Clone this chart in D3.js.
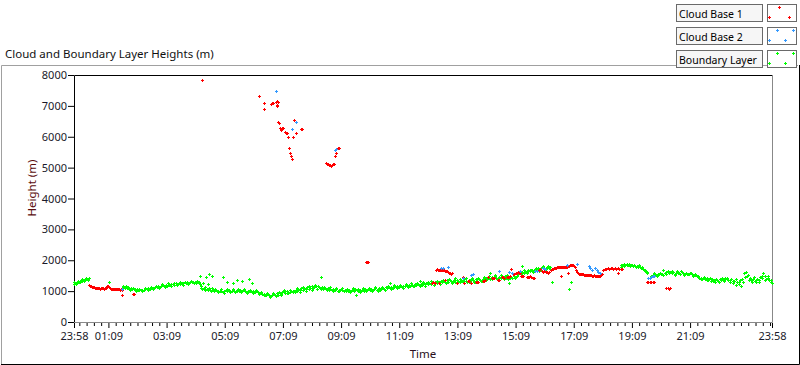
<!DOCTYPE html>
<html>
<head>
<meta charset="utf-8">
<script src="https://cdn.jsdelivr.net/npm/d3@7"></script>
<style>
body { margin: 0; background: #fff; }
text { font-family: "Noto Sans", "Open Sans", sans-serif; }
</style>
</head>
<body>
<div id="chart"></div>
<script>
// x values are minutes after 23:58, y values are heights in metres
var xTickMinutes = [0, 71, 191, 311, 431, 551, 671, 791, 911, 1031, 1151, 1271, 1440];
var xTickLabels = ["23:58", "01:09", "03:09", "05:09", "07:09", "09:09", "11:09", "13:09", "15:09", "17:09", "19:09", "21:09", "23:58"];
var yTicks = [0, 1000, 2000, 3000, 4000, 5000, 6000, 7000, 8000];
var seriesNames = ["Cloud Base 1", "Cloud Base 2", "Boundary Layer"];
var seriesColors = ["#ff0000", "#3399ff", "#00ff00"];

var cloudBase1 = [
  [265,7830],[382,7310],[393,7080],[391,6890],[407,7060],[409,7100],[411,7080],[416,7130],[418,7160],[420,7140],
  [419,7020],[418,7000],[421,6480],[423,6450],[424,6280],[430,6270],[432,6290],[427,6220],[436,6160],[439,6110],
  [437,6130],[454,6530],[457,6110],[442,5980],[452,5980],[469,6240],[471,6250],[444,5630],[446,5460],[448,5370],
  [450,5270],[520,5140],[522,5120],[524,5110],[526,5090],[528,5070],[530,5060],[532,5080],[534,5110],[536,5130],
  [538,5380],[540,5460],[544,5630],[546,5650],
  [603,1930],[605,1940],[607,1930],
  [30,1200],[32,1180],[34,1170],[36,1150],[38,1140],[40,1130],[42,1120],[44,1110],[46,1100],[48,1100],
  [50,1090],[52,1090],[54,1080],[56,1090],[58,1100],[60,1090],[62,1080],[64,1090],[66,1110],[68,1160],
  [70,1150],[72,1120],[74,1100],[76,1080],[78,1070],[80,1060],[82,1060],[84,1070],[86,1080],[88,1070],
  [90,1060],[92,1060],[94,1050],[96,1060],[98,1050],[99,875],[121,900],[123,910],
  [746,1700],[748,1710],[750,1700],[752,1690],[754,1700],[756,1690],[758,1680],[760,1690],[762,1670],[764,1680],
  [766,1660],[768,1660],[770,1640],[772,1620],[774,1600],[776,1590],[778,1570],[780,1580],
  [738,1270],[741,1280],[744,1270],[752,1250],[765,1360],[790,1250],[802,1470],[805,1250],[813,1340],[815,1330],
  [820,1270],[829,1300],[831,1310],[833,1300],[843,1330],[845,1320],[848,1360],[855,1450],[862,1410],[864,1420],
  [866,1410],[875,1360],[877,1370],[882,1470],[886,1450],[888,1440],[894,1470],[896,1460],[898,1470],[900,1480],
  [902,1710],[906,1550],[908,1540],[912,1590],[914,1600],[916,1610],[918,1590],[920,1580],[922,1490],[924,1480],
  [926,1490],[934,1470],[936,1460],[938,1470],[940,1480],[942,1460],[946,1440],[948,1430],[950,1440],[960,1700],
  [962,1720],[966,1640],[968,1620],[970,1640],[974,1630],[976,1620],[978,1600],[980,1620],
  [984,1700],[986,1710],[988,1730],[990,1740],[992,1740],[994,1760],[996,1770],[998,1780],[1000,1790],[1002,1790],
  [1004,1780],[1006,1790],[1008,1790],[1010,1790],[1012,1780],[1014,1770],[1016,1770],[1018,1780],[1020,1800],[1022,1820],
  [1024,1840],[1026,1850],[1028,1850],[1030,1840],[1032,1820],[1034,1780],[1036,1700],
  [1092,1700],[1095,1720],[1098,1730],[1101,1740],[1104,1730],[1107,1740],[1110,1740],[1113,1730],[1116,1740],[1119,1730],
  [1122,1740],[1125,1730],[1128,1720],[1131,1730],
  [1038,1620],[1040,1580],[1042,1570],[1044,1560],[1046,1550],[1048,1540],[1050,1540],[1052,1530],[1054,1530],[1056,1520],
  [1058,1520],[1060,1520],[1062,1510],[1064,1520],[1066,1510],[1068,1500],[1070,1500],[1072,1510],[1074,1500],[1076,1490],
  [1078,1500],[1080,1490],[1082,1500],[1084,1490],[1086,1500],[1088,1520],[1090,1560],
  [1004,1490],[1020,1580],[1123,1580],
  [1182,1290],[1185,1280],[1188,1290],[1191,1280],[1194,1290],[1197,1280],
  [1222,1110],[1225,1100],[1228,1080],[1230,1090]
];

var cloudBase2 = [
  [417,7470],[416,7490],[457,6470],[450,6240],[539,5560],[541,5590],[100,1070],
  [758,1740],[762,1760],[771,1790],[803,1430],[820,1520],[823,1540],[877,1640],[897,1610],[903,1580],
  [920,1660],[952,1650],[955,1660],[972,1710],[968,1740],[1018,1850],[1038,1870],[1063,1810],[1064,1740],
  [1068,1680],[1075,1740],[1078,1700],[1082,1630],[1085,1580],
  [1185,1420],[1188,1440],[1191,1460],[1194,1480],[1196,1490]
];

var boundaryLayer = [
  [0,1240],[2,1270],[4,1260],[6,1290],[8,1300],[10,1310],[12,1330],[14,1320],[16,1340],[18,1360],
  [20,1350],[22,1370],[24,1390],[26,1380],[28,1400],[30,1420],[73,1290],
  [1,1280],[5,1230],[9,1340],[13,1290],[17,1380],[21,1320],[25,1420],[29,1370],
  [101,1170],[104,1140],[106,1110],[109,1100],[112,1120],[114,1080],[117,1090],[120,1070],[123,1060],[126,1080],
  [129,1060],[132,1040],[135,1030],[138,1040],[141,1030],[144,1050],[147,1060],[150,1070],[153,1090],[156,1080],
  [159,1100],[162,1090],[165,1110],[168,1130],[171,1120],[174,1150],[177,1140],
  [102,1120],[108,1150],[115,1040],[121,1110],[127,1020],[134,1080],[140,1000],[146,1090],[152,1030],[158,1130],
  [164,1060],[170,1160],[176,1100],[182,1230],[188,1140],[194,1250],[200,1160],[206,1270],[212,1190],[218,1300],
  [224,1210],[230,1310],[236,1230],[242,1330],[248,1250],[254,1330],[259,1240],
  [180,1160],[183,1190],[186,1170],[189,1200],[192,1180],[195,1210],[198,1190],[201,1220],[204,1240],[207,1210],
  [210,1250],[213,1230],[216,1260],[219,1240],[222,1270],[225,1250],[228,1280],[231,1260],[234,1290],[237,1270],
  [240,1300],[243,1280],[246,1290],[249,1310],[252,1270],[255,1290],[258,1300],
  [260,1500],[272,1470],[279,1550],[284,1490],[266,1250],[276,1230],
  [262,1100],[265,1070],[268,1090],[271,1040],[274,1060],[277,1030],[280,1050],[283,1020],[286,1040],[289,1010],
  [308,1450],[315,1310],[327,1250],[336,1360],[346,1340],[360,1380],[367,1250],
  [292,1030],[295,1000],[298,1020],[301,990],[304,1010],[307,980],[310,1000],[313,1030],[316,1010],[319,1040],
  [322,1020],[325,1000],[328,1030],[331,1010],[334,990],[337,1020],[340,1000],[343,1040],[346,1010],[349,1030],
  [352,1000],[355,980],[358,1010],[361,990],[364,1020],[367,980],[370,1000],[373,960],[376,990],[379,970],[382,950],
  [263,1150],[270,1120],[278,1090],[285,1110],[291,1080],[297,960],[303,1060],[309,950],[315,1070],[321,970],
  [327,1070],[333,960],[339,1060],[345,970],[351,1060],[357,950],[363,1050],[369,940],[375,1030],[381,920],
  [385,940],[388,900],[391,920],[394,880],[397,860],[400,900],[403,870],[406,840],[409,880],[412,910],
  [415,870],[418,930],[421,890],[424,950],[427,910],
  [386,980],[392,860],[398,950],[404,820],[410,930],[416,830],[422,960],[428,870],[434,1030],[440,930],[446,1040],[452,1010],
  [430,960],[433,1000],[436,950],[439,990],[442,940],[445,980],[448,1010],[451,970],
  [454,1000],[457,1040],[460,1010],[463,1070],[466,1030],[469,1090],[472,1050],[475,1110],[478,1080],[481,1130],
  [484,1060],[487,1100],[490,1150],[493,1090],[496,1120],[499,1170],[502,1080],[505,1130],[508,1100],[509,1450],
  [455,960],[461,1100],[467,980],[473,1130],[479,1020],[485,1160],[491,1040],[497,1190],[503,1150],[510,1060],
  [516,1140],[522,1030],[528,1120],[534,1010],[540,1100],[546,990],[552,1110],[558,1000],[564,1080],[570,980],
  [576,1090],[585,1080],[591,980],[597,1090],[603,990],[609,1110],[615,1000],[621,1120],[627,1020],[630,1110],
  [511,1120],[514,1080],[517,1100],[520,1060],[523,1090],[526,1050],[529,1080],[532,1040],[535,1070],[538,1030],
  [541,1060],[544,1020],[547,1050],[550,1080],[553,1040],[556,1010],[559,1050],[562,1020],[565,1000],[568,1040],
  [571,1010],[574,1050],[577,1020],[580,1060],[582,880],[583,1030],[586,1000],[589,1040],[592,1010],[595,1050],
  [598,1020],[601,1060],[604,1030],[607,1080],[610,1040],[613,1070],[616,1030],[619,1060],[622,1090],[625,1050],
  [628,1080],[631,1040],
  [634,1070],[637,1100],[640,1080],[643,1120],[646,1090],[649,1130],[652,1270],[652,1100],[655,1140],[658,1110],
  [661,1150],[664,1120],[667,1160],[670,1130],[673,1170],[676,1140],[679,1180],[682,1150],[685,1190],[688,1160],
  [691,1200],[694,1170],[697,1210],[700,1180],[703,1220],[706,1190],[709,1230],[712,1200],[714,1340],[715,1240],
  [718,1210],[721,1250],[724,1220],[727,1260],[730,1230],[733,1270],
  [636,1140],[642,1050],[648,1170],[654,1060],[660,1190],[666,1090],[672,1210],[678,1110],[684,1230],[690,1130],
  [696,1250],[702,1160],[708,1270],[713,1170],[719,1290],[725,1180],[731,1300],
  [736,1240],[739,1290],[742,1250],[745,1300],[748,1260],[751,1310],[754,1280],[757,1330],[760,1290],[763,1340],
  [766,1300],[769,1350],[772,1310],[775,1360],[778,1320],[781,1280],[784,1350],[787,1310],[790,1370],[793,1330],
  [796,1290],[799,1360],[802,1320],[805,1380],[808,1340],[811,1300],[814,1370],[817,1330],[818,1520],[820,1390],
  [823,1350],[826,1310],[829,1380],[832,1340],[835,1400],[838,1360],[841,1320],[844,1390],
  [737,1320],[743,1210],[749,1340],[755,1230],[761,1360],[767,1250],[773,1390],[779,1270],[785,1410],[791,1290],
  [797,1400],[803,1280],[809,1420],[815,1300],[821,1430],[827,1290],[833,1420],[839,1320],[845,1450],[851,1360],
  [857,1490],[863,1390],[869,1510],[875,1400],[881,1530],[887,1380],[893,1520],[899,1420],[905,1540],[911,1450],
  [847,1350],[850,1420],[853,1380],[856,1440],[858,1580],[859,1400],[862,1460],[865,1420],[868,1480],[871,1430],
  [874,1380],[877,1450],[880,1410],[883,1470],[886,1430],[889,1490],[892,1440],[895,1400],[898,1270],[901,1460],
  [904,1420],[907,1480],[910,1440],[913,1500],
  [916,1560],[919,1610],[922,1580],[924,1820],[925,1630],[928,1600],[931,1650],[934,1620],[937,1670],[940,1640],
  [943,1690],[944,1690],[946,1660],[949,1700],[952,1670],[955,1720],[958,1740],[961,1700],[964,1750],[967,1820],
  [970,1760],[973,1730],[976,1780],[979,1750],[982,1790],
  [917,1620],[923,1540],[929,1680],[935,1580],[941,1700],[947,1620],[953,1740],[959,1660],[965,1780],[971,1700],
  [977,1810],[981,1720],
  [986,1310],[1021,1060],[1025,1310],
  [1128,1790],[1131,1830],[1134,1870],[1137,1860],[1140,1880],[1143,1850],[1146,1870],[1149,1840],[1152,1860],[1155,1830],
  [1158,1810],[1161,1820],[1164,1790],[1167,1770],[1170,1740],[1173,1710],[1176,1680],[1179,1650],[1182,1620],
  [1129,1840],[1135,1800],[1141,1830],[1147,1800],[1153,1810],[1159,1770],[1165,1830],[1171,1780],[1177,1700],[1183,1580],
  [1196,1580],[1203,1490],[1209,1590],[1215,1520],[1221,1570],
  [1190,1500],[1194,1530],[1198,1550],[1201,1520],[1204,1560],[1207,1540],[1210,1570],[1213,1550],[1216,1680],[1219,1600],
  [1222,1620],[1225,1650],
  [1230,1630],[1233,1580],[1236,1610],[1239,1560],[1242,1600],[1245,1640],[1248,1590],[1251,1560],[1254,1610],[1257,1580],
  [1260,1550],[1263,1600],[1266,1570],[1269,1540],[1272,1580],[1275,1550],[1278,1520],[1281,1560],[1284,1510],
  [1287,1460],[1290,1420],[1293,1440],[1296,1400],[1299,1430],[1302,1380],[1305,1410],[1308,1360],[1311,1390],[1314,1340],
  [1317,1380],[1320,1350],[1323,1310],[1326,1370],[1329,1330],[1332,1390],[1335,1350],[1338,1400],[1341,1370],[1344,1420],
  [1347,1380],
  [1350,1350],[1353,1300],[1356,1400],[1359,1260],[1362,1330],[1365,1200],[1368,1280],[1371,1230],[1374,1350],[1377,1170],
  [1380,1300],
  [1383,1580],[1386,1630],[1389,1480],[1392,1360],[1395,1420],[1398,1310],[1401,1380],[1404,1330],[1407,1290],[1410,1400],
  [1413,1350],[1416,1470],[1419,1420],[1422,1580],[1425,1480],[1428,1390],[1431,1440],[1434,1350],[1437,1300],[1439,1260],
  [1227,1590],[1234,1650],[1240,1520],[1246,1580],[1252,1640],[1258,1520],[1264,1560],[1270,1600],[1276,1500],[1282,1530],
  [1288,1490],[1294,1380],[1300,1460],[1306,1350],[1312,1430],[1318,1320],[1324,1400],[1330,1300],[1336,1420],[1342,1330],
  [1348,1430],[1354,1360],[1360,1320],[1366,1380],[1372,1290],[1378,1380],[1384,1460],[1390,1530],[1396,1350],[1402,1450],
  [1408,1360],[1414,1300],[1420,1480],[1426,1360],[1432,1500],[1438,1370]
];

var width = 800, height = 365;
var plot = {left: 74, top: 75, right: 772, bottom: 322};

var svg = d3.select("#chart").append("svg")
    .attr("width", width)
    .attr("height", height);

var x = d3.scaleLinear().domain([0, 1440]).range([plot.left, plot.right]);
var y = d3.scaleLinear().domain([0, 8000]).range([plot.bottom, plot.top]);

// outer frame (light top/left, dark bottom/right)
svg.append("path")
    .attr("d", "M1.5,364V65.5H798")
    .attr("fill", "none").attr("stroke", "#a0a0a0");
svg.append("path")
    .attr("d", "M1,364.5H799.5V65")
    .attr("fill", "none").attr("stroke", "#000");

// chart title
svg.append("text")
    .attr("x", 5).attr("y", 58)
    .style("font-size", "11.5px")
    .attr("fill", "#111")
    .text("Cloud and Boundary Layer Heights (m)");

// plot area border
svg.append("path")
    .attr("d", "M" + (plot.left + 0.5) + "," + plot.bottom + "V" + (plot.top + 0.5) + "H" + plot.right)
    .attr("fill", "none").attr("stroke", "#000");
svg.append("path")
    .attr("d", "M" + (plot.right + 0.5) + "," + plot.top + "V" + (plot.bottom + 0.5) + "H" + plot.left)
    .attr("fill", "none").attr("stroke", "#888");

// minor x ticks every 15 min, aligned to 01:09
var minorTicks = d3.range(11, 1440, 15).filter(function(m) { return xTickMinutes.indexOf(m) < 0; });
svg.append("g")
    .attr("transform", "translate(0," + (plot.bottom + 1) + ")")
    .call(d3.axisBottom(x).tickValues(minorTicks).tickSize(3).tickFormat(""))
    .call(function(g) { g.select(".domain").remove(); });

// major x ticks
var xAxis = svg.append("g")
    .attr("transform", "translate(0," + (plot.bottom + 1) + ")")
    .call(d3.axisBottom(x).tickValues(xTickMinutes).tickSize(5).tickPadding(4)
        .tickFormat(function(d, i) { return xTickLabels[i]; }));
xAxis.select(".domain").remove();
xAxis.selectAll("text").style("font-size", "11px").attr("fill", "#1a1a2a");

// y axis
var yAxis = svg.append("g")
    .attr("transform", "translate(" + plot.left + ",0)")
    .call(d3.axisLeft(y).tickValues(yTicks).tickSize(6).tickPadding(1).tickFormat(d3.format("d")));
yAxis.select(".domain").remove();
yAxis.selectAll("text").style("font-size", "11px").attr("fill", "#1a1a2a");

// axis titles
svg.append("text")
    .attr("transform", "translate(36,188) rotate(-90)")
    .attr("text-anchor", "middle")
    .style("font-size", "11.5px")
    .attr("fill", "#5a0c0c")
    .text("Height (m)");
svg.append("text")
    .attr("x", (plot.left + plot.right) / 2).attr("y", 358)
    .attr("text-anchor", "middle")
    .style("font-size", "11.5px")
    .attr("fill", "#2a1020")
    .text("Time");

// plus markers, 3x3 px
function plus(px, py) {
  var cx = Math.round(px), cy = Math.round(py);
  return "M" + (cx - 1) + "," + (cy + 0.5) + "h3M" + (cx + 0.5) + "," + (cy - 1) + "v3";
}

function drawSeries(data, color) {
  svg.append("path")
      .attr("d", data.map(function(d) { return plus(x(d[0]), y(d[1])); }).join(""))
      .attr("fill", "none")
      .attr("stroke", color)
      .attr("stroke-width", 1)
      .style("shape-rendering", "crispEdges");
}

drawSeries(boundaryLayer, seriesColors[2]);
drawSeries(cloudBase1, seriesColors[0]);
drawSeries(cloudBase2, seriesColors[1]);

// legend
var legendIcons = [
  [[779, 7], [769, 17], [789, 17]],
  [[777, 30], [793, 30], [769, 40], [785, 40]],
  [[777, 53], [793, 53], [769, 63], [785, 63]]
];
seriesNames.forEach(function(name, i) {
  var top = 4 + i * 23;
  var g = svg.append("g");
  g.append("rect")
      .attr("x", 676.5).attr("y", top + 0.5)
      .attr("width", 86).attr("height", 17)
      .attr("fill", "#f6f6f6").attr("stroke", "#6a6a6a");
  g.append("text")
      .attr("x", 679).attr("y", top + 13.5)
      .style("font-size", "10.5px")
      .attr("fill", "#000")
      .text(name);
  g.append("rect")
      .attr("x", 767.5).attr("y", top + 0.5)
      .attr("width", 29).attr("height", 17)
      .attr("fill", "#fff").attr("stroke", "#6a6a6a");
  g.append("path")
      .attr("d", legendIcons[i].map(function(p) { return plus(p[0], p[1]); }).join(""))
      .attr("fill", "none")
      .attr("stroke", seriesColors[i])
      .style("shape-rendering", "crispEdges");
});
</script>
</body>
</html>
